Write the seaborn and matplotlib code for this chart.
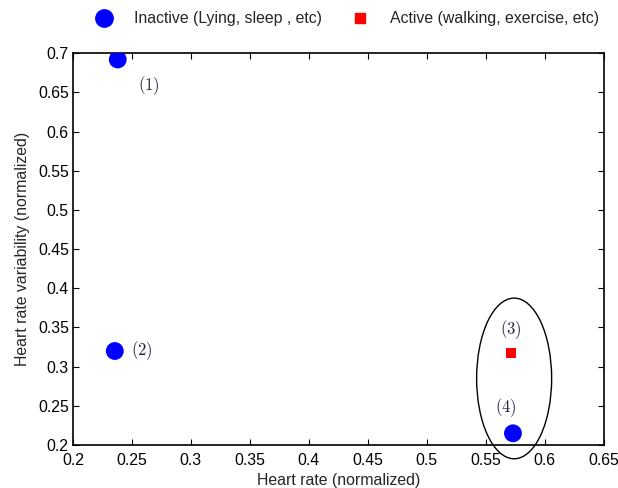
import matplotlib
matplotlib.use("Agg")
import matplotlib.pyplot as plt
from matplotlib.patches import Ellipse
from matplotlib.lines import Line2D
import seaborn as sns
import pandas as pd

# Normalized heart rate / heart rate variability for four recorded segments
heart_rate = [0.238, 0.2355, 0.571, 0.573]
hrv = [0.692, 0.320, 0.317, 0.215]
state = ["Inactive", "Inactive", "Active", "Inactive"]
point_ids = ["(1)", "(2)", "(3)", "(4)"]
id_x = [0.264, 0.258, 0.571, 0.567]
id_y = [0.658, 0.320, 0.347, 0.248]

x_ticks = [0.2, 0.25, 0.3, 0.35, 0.4, 0.45, 0.5, 0.55, 0.6, 0.65]
y_ticks = [0.2, 0.25, 0.3, 0.35, 0.4, 0.45, 0.5, 0.55, 0.6, 0.65, 0.7]

legend_labels = {"Inactive": "Inactive (Lying, sleep , etc)",
                 "Active": "Active (walking, exercise, etc)"}

df = pd.DataFrame({"hr": heart_rate, "hrv": hrv, "state": state})

sns.set_theme(style="ticks")
plt.rcParams["font.family"] = ["Liberation Sans", "DejaVu Sans"]
plt.rcParams["mathtext.fontset"] = "cm"

fs = 11.4

fig = plt.figure(figsize=(6.18, 4.88), dpi=100)
ax = fig.add_axes([0.118, 0.088, 0.859, 0.803])

colors = {"Inactive": "#0000ff", "Active": "#ff0000"}
markers = {"Inactive": "o", "Active": "s"}
sizes = {"Inactive": 165, "Active": 50}

for st in ["Inactive", "Active"]:
    sub = df[df["state"] == st]
    sns.scatterplot(data=sub, x="hr", y="hrv", ax=ax, color=colors[st],
                    marker=markers[st], s=sizes[st], edgecolor="none",
                    legend=False, zorder=3)

for lab, tx, ty in zip(point_ids, id_x, id_y):
    ax.text(tx, ty, r"$\mathrm{" + lab + "}$", fontsize=12, color="#222244",
            ha="center", va="center")

# Grouping ellipse around the two high heart-rate segments
ax.add_patch(Ellipse((0.574, 0.285), 0.0636, 0.205, fill=False,
                     edgecolor="black", linewidth=1.0, clip_on=False, zorder=2))

ax.set_xlim(0.2, 0.65)
ax.set_ylim(0.2, 0.7)
ax.set_xticks(x_ticks)
ax.set_yticks(y_ticks)
ax.set_xticklabels([f"{v:g}" for v in x_ticks])
ax.set_yticklabels([f"{v:g}" for v in y_ticks])
ax.tick_params(direction="in", top=True, right=True, length=4, width=0.8,
               labelsize=fs, colors="black")
ax.tick_params(axis="x", pad=6)
ax.tick_params(axis="y", pad=3)
for sp in ax.spines.values():
    sp.set_visible(True)
    sp.set_linewidth(1.2)
    sp.set_color("black")

ax.set_xlabel("Heart rate (normalized)", fontsize=fs, labelpad=3)
ax.set_ylabel("Heart rate variability (normalized)", fontsize=fs, labelpad=6)

handles = [
    Line2D([], [], linestyle="none", marker="o", color="#0000ff",
           markersize=12.5, label=legend_labels["Inactive"]),
    Line2D([], [], linestyle="none", marker="s", color="#ff0000",
           markersize=7, label=legend_labels["Active"]),
]
fig.legend(handles=handles, loc="center", bbox_to_anchor=(0.556, 0.962),
           ncol=2, frameon=False, fontsize=fs, handletextpad=0.9,
           columnspacing=1.35)

fig.savefig("out.png", dpi=100)
